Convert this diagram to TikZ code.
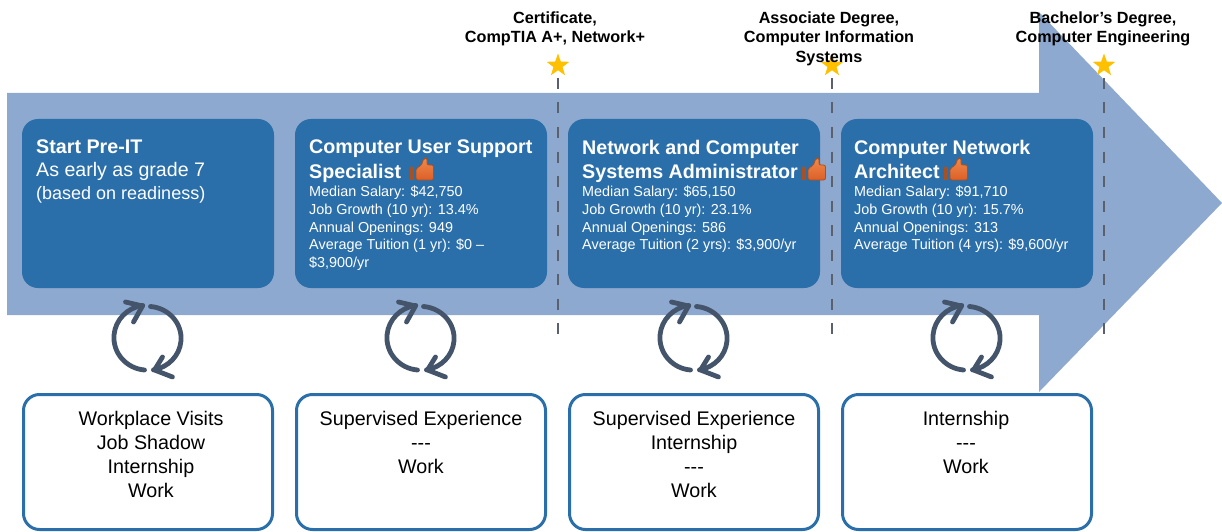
\documentclass[tikz,border=0pt]{standalone}
\usepackage{fontspec}
\setmainfont{Liberation Sans}
\usetikzlibrary{shapes.geometric}
\definecolor{arrowblue}{HTML}{8EA9CF}
\definecolor{boxblue}{HTML}{2A6FAA}
\definecolor{ringgray}{HTML}{44546A}
\definecolor{dashgray}{HTML}{5A606C}
\definecolor{stargold}{HTML}{FFC000}
\definecolor{thumbtop}{HTML}{F08A4B}
\definecolor{thumblow}{HTML}{DC5F28}
\definecolor{thumbdark}{HTML}{A8501F}
\tikzset{
	jobbox/.style={draw=none, fill=boxblue, rounded corners=16pt, minimum width=252pt, minimum height=169pt, anchor=north west, outer sep=0pt},
	workbox/.style={draw=boxblue, line width=3pt, fill=white, rounded corners=16pt, minimum width=249pt, minimum height=135pt, anchor=north west, outer sep=0pt},
	jobtitle/.style={text=white, align=left, anchor=north west, inner sep=0pt, font=\bfseries\fontsize{19.7}{24.5}\selectfont},
	jobintro/.style={text=white, align=left, anchor=north west, inner sep=0pt, font=\fontsize{19.6}{23.5}\selectfont},
	jobfacts/.style={text=white, align=left, anchor=north west, inner sep=0pt, font=\fontsize{14.4}{17.6}\selectfont},
	worktext/.style={align=center, anchor=north, inner sep=0pt, font=\fontsize{19.7}{24}\selectfont},
	credtext/.style={align=center, anchor=north, inner sep=0pt, font=\bfseries\fontsize{16.2}{19.5}\selectfont},
	goldstar/.style={star, star points=5, star point ratio=2.5, fill=stargold, draw=none, minimum size=24pt, inner sep=0pt},
	tick/.style={dashgray, line width=1.6pt, dash pattern=on 11pt off 13.5pt},
	ring/.style={ringgray, line width=4.8pt, line cap=round, line join=round},
	thumbup/.pic={
		\fill[thumbdark] (0,10) rectangle (4,23);
		\shade[top color=thumbtop, bottom color=thumblow, draw=thumbdark, line width=0.8pt, rounded corners=2pt] (6,11) -- (11,9) -- (14,1) -- (17,1) -- (17,8) -- (23.5,8) -- (23.5,23) -- (6,23) -- cycle;
	},
	cycleicon/.pic={
		\draw[ring] (3,-33.5) arc[start angle=-85, end angle=80, x radius=33.5, y radius=32];
		\draw[ring] (-3,30) arc[start angle=95, end angle=262, x radius=33.5, y radius=32.5];
		\draw[ring] (15,17) -- (7,30) -- (25,37);
		\draw[ring] (-22,-38) -- (-5,-34) -- (-14,-18);
	}
}
\begin{document}
\begin{tikzpicture}[x=1pt,y=-1pt]
	\useasboundingbox (0,0) rectangle (1222,532);
	% big arrow
	\fill[arrowblue] (7,93) -- (1039,93) -- (1039,12) -- (1222,203) -- (1039,392) -- (1039,315) -- (7,315) -- cycle;
	% milestones
	\foreach \i/\x in {1/558,2/832,3/1104}{
		\node[goldstar] (star\i) at (\x,65.5) {};
		\coordinate (top\i) at (\x,78);
		\coordinate (end\i) at (\x,336);
		\draw[tick] (top\i) -- (end\i);
	}
	\node[credtext] (cred1) at (555,11.5) {Certificate,\\CompTIA A+, Network+};
	\node[credtext] (cred2) at (829,11.5) {Associate Degree,\\Computer Information\\Systems};
	\node[credtext] (cred3) at (1103,11.5) {Bachelor’s Degree,\\Computer Engineering};
	% upper and lower boxes, cycles
	\foreach \i/\x in {1/22,2/295,3/568,4/841}{
		\node[jobbox] (job\i) at (\x,119) {};
		\node[workbox] (work\i) at (\x+1.5,394.5) {};
		\pic at (\x+125.5,340) {cycleicon};
	}
	% text of the upper boxes
	\node[jobtitle] (title1) at (36,140) {Start Pre-IT};
	\node[jobintro] (intro1) at (36,162.5) {As early as grade 7};
	\node[jobintro, font=\fontsize{18}{23.5}\selectfont] (intro2) at (36,186.5) {(based on readiness)};
	\node[jobtitle] (title2) at (309,140) {Computer User Support\\Specialist};
	\node[jobfacts] (facts2) at (309,186) {Median Salary: \$42,750\\Job Growth (10 yr): 13.4\%\\Annual Openings: 949\\Average Tuition (1 yr): \$0 –\\\$3,900/yr};
	\node[jobtitle] (title3) at (582,140) {Network and Computer\\Systems Administrator};
	\node[jobfacts] (facts3) at (582,186) {Median Salary: \$65,150\\Job Growth (10 yr): 23.1\%\\Annual Openings: 586\\Average Tuition (2 yrs): \$3,900/yr};
	\node[jobtitle] (title4) at (854,140) {Computer Network\\Architect};
	\node[jobfacts] (facts4) at (854,186) {Median Salary: \$91,710\\Job Growth (10 yr): 15.7\%\\Annual Openings: 313\\Average Tuition (4 yrs): \$9,600/yr};
	\foreach \x in {410,802,944}{
		\pic at (\x,157) {thumbup};
	}
	% text of the lower boxes
	\node[worktext] (wtxt1) at (151,411.5) {Workplace Visits\\Job Shadow\\Internship\\Work};
	\node[worktext] (wtxt2) at (421,411.5) {Supervised Experience\\-{}-{}-\\Work};
	\node[worktext] (wtxt3) at (694,411.5) {Supervised Experience\\Internship\\-{}-{}-\\Work};
	\node[worktext] (wtxt4) at (966,411.5) {Internship\\-{}-{}-\\Work};
\end{tikzpicture}
\end{document}
